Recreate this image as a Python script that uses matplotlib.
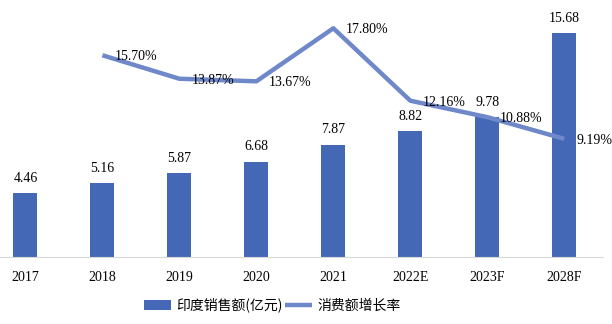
import matplotlib.pyplot as plt
import numpy as np

plt.rcParams['font.family'] = ['Liberation Serif', 'Noto Sans CJK SC']

years = ["2017", "2018", "2019", "2020", "2021", "2022E", "2023F", "2028F"]
sales = [4.46, 5.16, 5.87, 6.68, 7.87, 8.82, 9.78, 15.68]
growth_years = ["2018", "2019", "2020", "2021", "2022E", "2023F", "2028F"]
growth = [15.70, 13.87, 13.67, 17.80, 12.16, 10.88, 9.19]

bar_color = "#4467b6"
line_color = "#6f88c9"

fig = plt.figure(figsize=(6.12, 3.24), dpi=100)
ax = fig.add_axes([0.0, 0.207, 0.985, 0.793])
ax2 = ax.twinx()

x = np.arange(len(years))
gx = [years.index(y) for y in growth_years]

bars = ax.bar(x, sales, width=0.31, color=bar_color, label="印度销售额(亿元)", zorder=2)
for xi, v in zip(x, sales):
    ax.annotate(f"{v:.2f}", (xi, v), xytext=(0, 6), textcoords="offset points",
                ha="center", va="bottom", fontsize=10)

line, = ax2.plot(gx, growth, color=line_color, lw=3.2, label="消费额增长率",
                 solid_capstyle="butt", zorder=3)
for xi, v in zip(gx, growth):
    ax2.annotate(f"{v:.2f}%", (xi, v), xytext=(9, -1), textcoords="offset points",
                 ha="left", va="center", fontsize=10)

ax.set_xlim(-0.33, 7.5)
ax.set_ylim(0, 18)
ax2.set_ylim(0, 20)

ax.set_xticks(x)
ax.set_xticklabels(years, fontsize=10)
ax.tick_params(axis="x", length=0, pad=10)
ax.set_yticks([])
ax2.set_yticks([])

for a in (ax, ax2):
    for side in ("top", "left", "right"):
        a.spines[side].set_visible(False)
    a.spines["bottom"].set_color("#d9d9d9")
ax2.spines["bottom"].set_visible(False)

fig.legend([bars, line], ["印度销售额(亿元)", "消费额增长率"], loc="center",
           bbox_to_anchor=(0.445, 0.058), ncol=2, frameon=False,
           handlelength=1.9, handletextpad=0.4, columnspacing=0.2,
           prop={"family": ["Noto Sans CJK SC"], "size": 10})

fig.savefig("out.png", dpi=100)
